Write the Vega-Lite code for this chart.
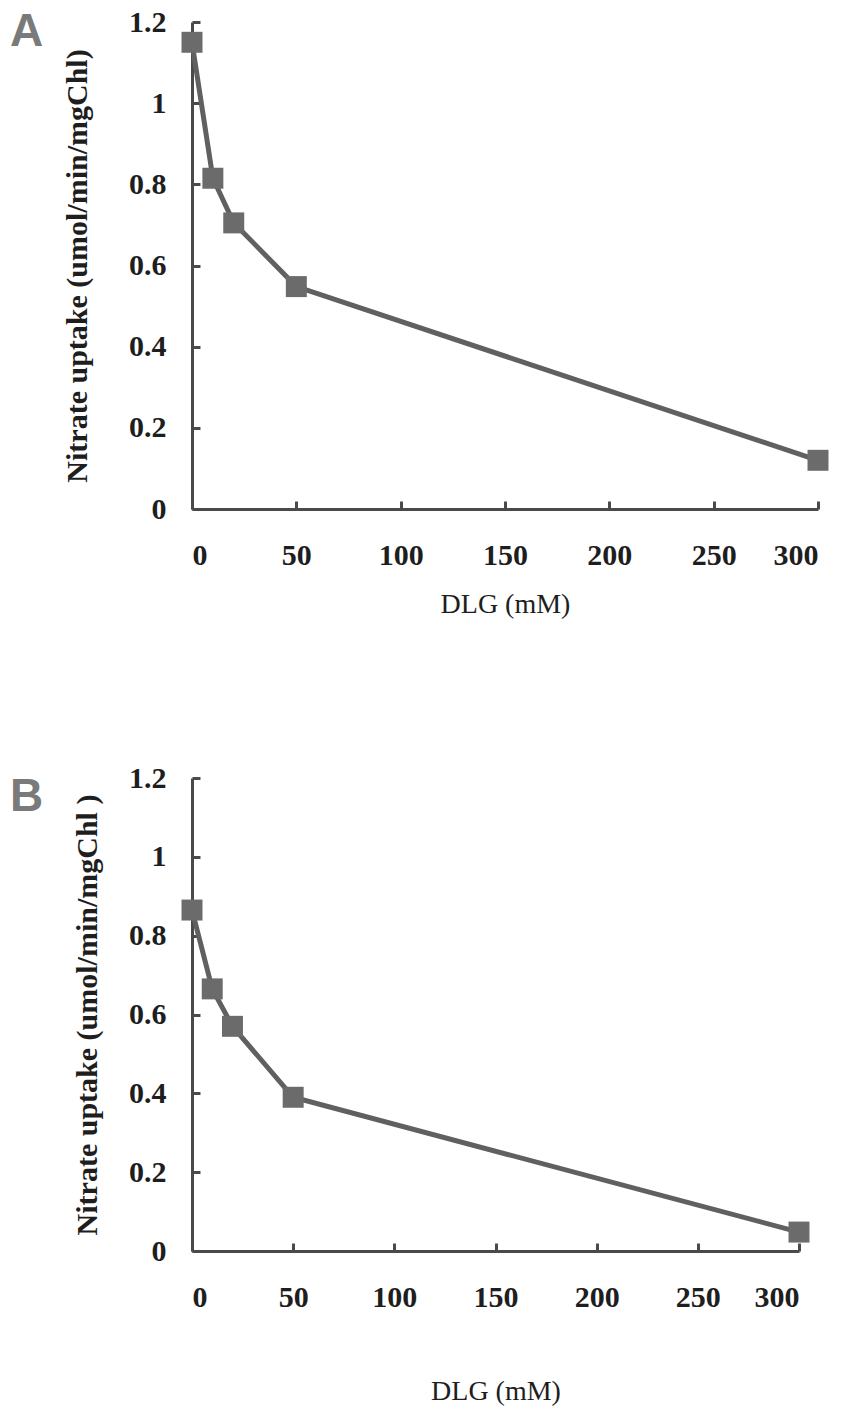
{
  "$schema": "https://vega.github.io/schema/vega-lite/v6.json",
  "background": "white",
  "padding": {"left": 10, "top": 7, "right": 5, "bottom": 5},
  "config": {
    "view": {"stroke": null},
    "font": "Liberation Serif",
    "axis": {
      "grid": false,
      "domainColor": "#4a4a4a",
      "domainWidth": 3,
      "tickColor": "#4a4a4a",
      "tickWidth": 3,
      "tickSize": -8,
      "labelFont": "Liberation Serif",
      "labelFontWeight": "bold",
      "labelFontSize": 30,
      "labelColor": "#1e1e1e",
      "titleFont": "Liberation Serif",
      "titleFontSize": 30,
      "titleColor": "#1e1e1e"
    },
    "title": {"font": "Liberation Sans", "fontSize": 46, "fontWeight": "bold", "color": "#7a7a7a", "baseline": "alphabetic", "offset": 0}
  },
  "datasets": {
    "A": [
      {"dlg": 0, "uptake": 1.15},
      {"dlg": 10, "uptake": 0.815},
      {"dlg": 20, "uptake": 0.705},
      {"dlg": 50, "uptake": 0.548},
      {"dlg": 300, "uptake": 0.12}
    ],
    "B": [
      {"dlg": 0, "uptake": 0.865},
      {"dlg": 10, "uptake": 0.665},
      {"dlg": 20, "uptake": 0.57},
      {"dlg": 50, "uptake": 0.39},
      {"dlg": 300, "uptake": 0.048}
    ]
  },
  "spacing": 145,
  "vconcat": [
    {
      "data": {"name": "A"},
      "width": 626,
      "height": 487,
      "title": {"text": "A", "anchor": "start", "frame": "group", "dx": -182, "dy": 53},
      "mark": {"type": "line", "color": "#606060", "strokeWidth": 5,
        "point": {"shape": "square", "size": 440, "filled": true, "color": "#6b6b6b", "opacity": 1}},
      "encoding": {
        "x": {"field": "dlg", "type": "quantitative", "scale": {"domain": [0, 300]},
          "axis": {"values": [0, 50, 100, 150, 200, 250, 300], "title": "DLG (mM)", "labelPadding": 39, "titlePadding": 20, "titleFontSize": 28, "titleFontWeight": "normal"}},
        "y": {"field": "uptake", "type": "quantitative", "scale": {"domain": [0, 1.2]},
          "axis": {"values": [0, 0.2, 0.4, 0.6, 0.8, 1, 1.2], "format": "~g", "title": "Nitrate uptake (umol/min/mgChl)", "labelPadding": 34, "titlePadding": 36, "titleFontWeight": "bold"}}
      }
    },
    {
      "data": {"name": "B"},
      "width": 607,
      "height": 473,
      "title": {"text": "B", "anchor": "start", "frame": "group", "dx": -182, "dy": 62},
      "mark": {"type": "line", "color": "#606060", "strokeWidth": 5,
        "point": {"shape": "square", "size": 440, "filled": true, "color": "#6b6b6b", "opacity": 1}},
      "encoding": {
        "x": {"field": "dlg", "type": "quantitative", "scale": {"domain": [0, 300]},
          "axis": {"values": [0, 50, 100, 150, 200, 250, 300], "title": "DLG (mM)", "labelPadding": 39, "titlePadding": 65, "titleFontSize": 28, "titleFontWeight": "normal"}},
        "y": {"field": "uptake", "type": "quantitative", "scale": {"domain": [0, 1.2]},
          "axis": {"values": [0, 0.2, 0.4, 0.6, 0.8, 1, 1.2], "format": "~g", "title": "Nitrate uptake (umol/min/mgChl )", "labelPadding": 34, "titlePadding": 26, "titleFontWeight": "bold"}}
      }
    }
  ]
}
